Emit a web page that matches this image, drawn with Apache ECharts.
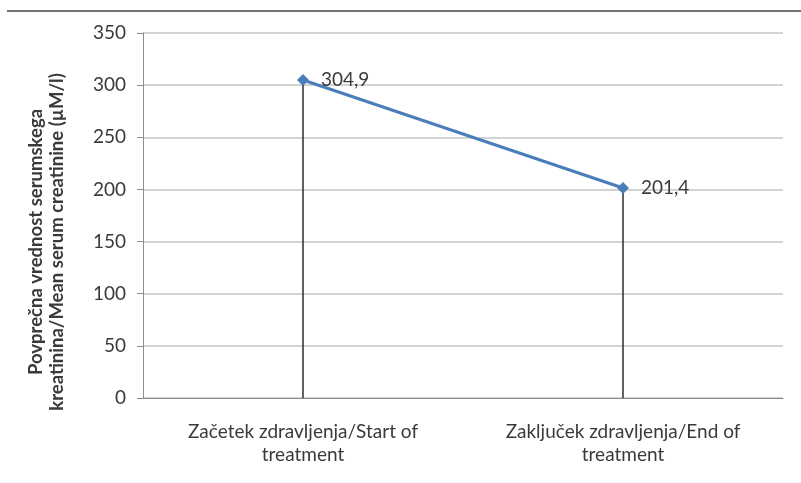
<!DOCTYPE html>
<html>
<head>
<meta charset="utf-8">
<script src="https://cdn.jsdelivr.net/npm/echarts@6/dist/echarts.min.js"></script>
<style>
  html, body { margin: 0; padding: 0; background: #fff; }
  #chart { width: 801px; height: 483px; }
</style>
</head>
<body>
<div id="chart"></div>
<script>
// data
const categories = ['Začetek zdravljenja/Start of\ntreatment', 'Zaključek zdravljenja/End of\ntreatment'];
const meanCreatinine = [304.9, 201.4];
const yTicks = { min: 0, max: 350, interval: 50 };
const yTitle = 'Povprečna vrednost serumskega\nkreatinina/Mean serum creatinine (µM/l)';

const chart = echarts.init(document.getElementById('chart'));
const font = 'Lato, "Open Sans", sans-serif';

chart.setOption({
  animation: false,
  backgroundColor: '#fff',
  grid: { left: 143, right: 18, top: 33, bottom: 85 },
  graphic: [{
    type: 'line',
    shape: { x1: 7, y1: 11, x2: 801, y2: 11 },
    style: { stroke: '#737373', lineWidth: 2 }
  }, {
    // y axis title sits a bit below the plot centre in the original
    type: 'text',
    x: 47, y: 242,
    rotation: Math.PI / 2,
    style: {
      text: yTitle,
      fill: '#3a3a3a', fontFamily: font, fontSize: 18.5, fontWeight: 'bold', lineHeight: 21,
      align: 'center', verticalAlign: 'middle'
    }
  }],
  xAxis: {
    type: 'category',
    data: categories,
    boundaryGap: true,
    axisLine: { lineStyle: { color: '#8c8c8c', width: 1 } },
    axisTick: { show: false },
    axisLabel: {
      color: '#3a3a3a', fontFamily: font, fontSize: 19, lineHeight: 23, margin: 22,
      align: 'center'
    }
  },
  yAxis: {
    type: 'value',
    min: yTicks.min, max: yTicks.max, interval: yTicks.interval,
    axisLine: { show: true, lineStyle: { color: '#8c8c8c' } },
    axisTick: { show: true, length: 6, lineStyle: { color: '#8c8c8c' } },
    axisLabel: { color: '#3a3a3a', fontFamily: font, fontSize: 19, margin: 17 },
    splitLine: { lineStyle: { color: '#c4c4c4', width: 1.5 } }
  },
  series: [{
    // drop lines from each point to the axis
    type: 'bar',
    data: meanCreatinine,
    barWidth: 1.5,
    itemStyle: { color: '#2e2e2e' },
    silent: true
  }, {
    type: 'line',
    data: meanCreatinine,
    symbol: 'diamond',
    symbolSize: 12,
    lineStyle: { color: '#4a7ebb', width: 3 },
    itemStyle: { color: '#4a7ebb' },
    label: {
      show: true, position: 'right', distance: 12,
      color: '#3a3a3a', fontFamily: font, fontSize: 19,
      formatter: p => String(p.value).replace('.', ',')
    },
    z: 5
  }]
});
</script>
</body>
</html>
